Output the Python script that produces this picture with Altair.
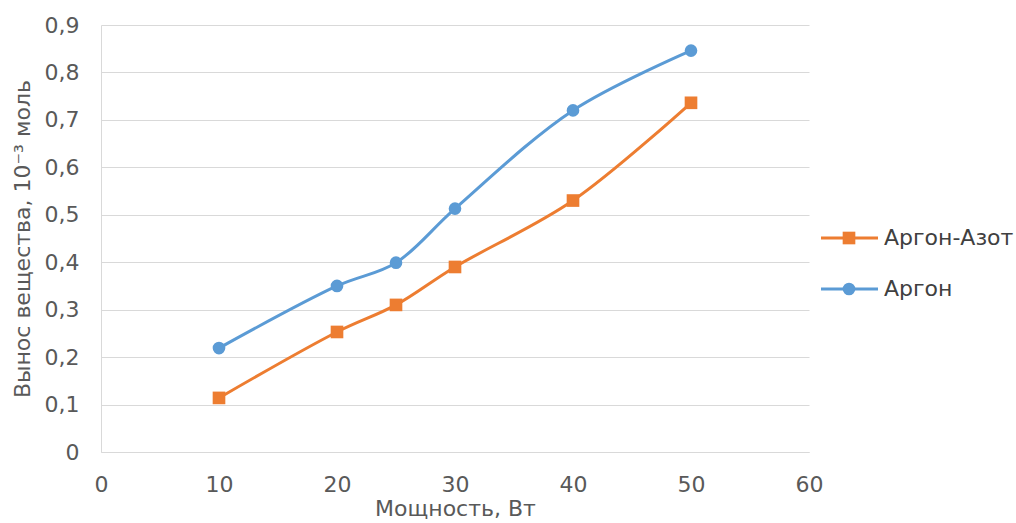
import altair as alt
import pandas as pd

power = [10, 20, 25, 30, 40, 50]
argon = [0.219, 0.350, 0.399, 0.513, 0.720, 0.846]
argon_azot = [0.114, 0.253, 0.310, 0.390, 0.530, 0.736]
series_order = ["Аргон-Азот", "Аргон"]
colors = ["#ED7D31", "#5B9BD5"]
shapes = ["square", "circle"]
x_ticks = [0, 10, 20, 30, 40, 50, 60]
y_ticks = [0, 0.1, 0.2, 0.3, 0.4, 0.5, 0.6, 0.7, 0.8, 0.9]

rows = []
for p, v in zip(power, argon_azot):
    rows.append({"power": p, "value": v, "series": "Аргон-Азот"})
for p, v in zip(power, argon):
    rows.append({"power": p, "value": v, "series": "Аргон"})
df = pd.DataFrame(rows)

FONT = "DejaVu Sans"
FS = 22
TFS = 22
TXT = "#595959"
GRID = "#D9D9D9"
MSIZE = 160

color = alt.Color("series:N", scale=alt.Scale(domain=series_order, range=colors), legend=None)
shape = alt.Shape("series:N", scale=alt.Scale(domain=series_order, range=shapes), legend=None)

x = alt.X("power:Q", scale=alt.Scale(domain=[0, 60]),
          axis=alt.Axis(values=x_ticks, title="Мощность, Вт", grid=False, ticks=False,
                        domainColor=GRID, domainWidth=1, labelPadding=22, titlePadding=3,
                        labelColor=TXT, titleColor=TXT, labelFont=FONT, titleFont=FONT,
                        labelFontSize=FS, titleFontSize=TFS, titleFontWeight="normal",
                        labelFlush=False))
y = alt.Y("value:Q", scale=alt.Scale(domain=[0, 0.9]),
          axis=alt.Axis(values=y_ticks, title="Вынос вещества, 10⁻³ моль", grid=True,
                        gridColor=GRID, gridWidth=1, ticks=False, domainColor=GRID,
                        labelPadding=22, titlePadding=10,
                        labelExpr="datum.value == 0 ? '0' : replace(format(datum.value, '.1f'), '.', ',')",
                        labelColor=TXT, titleColor=TXT, labelFont=FONT, titleFont=FONT,
                        labelFontSize=FS, titleFontSize=TFS, titleFontWeight="normal"))

base = alt.Chart(df)
lines = base.mark_line(interpolate="catmull-rom", strokeWidth=3).encode(x=x, y=y, color=color)
points = base.mark_point(filled=True, opacity=1, size=MSIZE).encode(x=x, y=y, color=color, shape=shape)
data_layer = alt.layer(lines, points)

# legend (drawn to the right of the plot area)
leg_df = pd.DataFrame({"series": series_order, "idx": [0, 1]})
ly = alt.Y("idx:Q", scale=alt.Scale(domain=[0, 1], range=[213, 264]), axis=None)
lbase = alt.Chart(leg_df)
lrule = lbase.mark_rule(strokeWidth=3).encode(x=alt.value(720), x2=alt.value(777), y=ly, color=color)
lpt = lbase.mark_point(filled=True, opacity=1, size=MSIZE).encode(x=alt.value(748), y=ly, color=color, shape=shape)
ltxt = lbase.mark_text(align="left", baseline="middle", font=FONT, fontSize=TFS, color="#404040").encode(
    x=alt.value(783), y=ly, text="series:N")
legend_layer = alt.layer(lrule, lpt, ltxt)

chart = alt.layer(data_layer, legend_layer).resolve_scale(y="independent").properties(
    width=708, height=427, background="white",
    padding={"left": 11, "top": 14, "right": 0, "bottom": 0}
).configure_view(stroke="transparent", strokeWidth=0)

chart.save("out.html", embed_options={"renderer": "svg", "actions": False})
